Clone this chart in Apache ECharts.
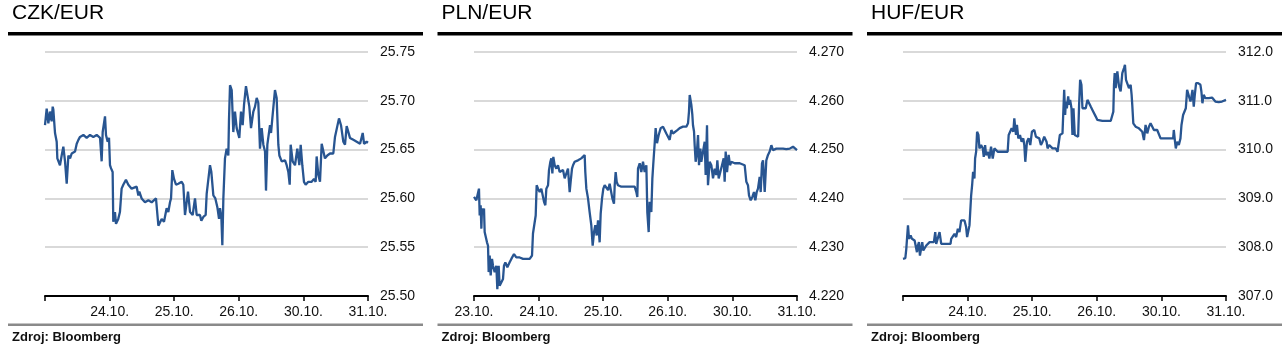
<!DOCTYPE html>
<html>
<head>
<meta charset="utf-8">
<script src="https://cdn.jsdelivr.net/npm/echarts@6/dist/echarts.min.js"></script>
<style>
html,body{margin:0;padding:0;background:#fff;}
#c{width:1285px;height:359px;}
</style>
</head>
<body>
<div id="c"></div>
<script>
// ---- DATA ----
const titles = ['CZK/EUR', 'PLN/EUR', 'HUF/EUR'];
const dayLabels = ['23.10.', '24.10.', '25.10.', '26.10.', '30.10.', '31.10.'];
const showFirstLabel = [false, true, false];
const sourceText = 'Zdroj: Bloomberg';

const czkYTicks = [25.50, 25.75, 0.05];
const plnYTicks = [4.220, 4.270, 0.01];
const hufYTicks = [307.0, 312.0, 1.0];

// [trading-day position, rate]
const czkSeries = [
[0,25.675],[0.026,25.692],[0.052,25.677],[0.077,25.689],[0.103,25.679],[0.119,25.694],[0.129,25.691],[0.155,25.667],[0.181,25.658],[0.191,25.641],[0.206,25.639],[0.232,25.634],[0.258,25.644],[0.284,25.653],[0.310,25.638],[0.336,25.615],[0.351,25.614],[0.362,25.644],[0.388,25.641],[0.413,25.646],[0.439,25.646],[0.465,25.648],[0.491,25.656],[0.517,25.660],[0.542,25.663],[0.594,25.665],[0.645,25.662],[0.697,25.665],[0.748,25.663],[0.800,25.665],[0.826,25.667],[0.852,25.662],[0.877,25.638],[0.893,25.668],[0.929,25.684],[0.944,25.665],[0.970,25.658],[0.991,25.662],[1.006,25.634],[1.021,25.631],[1.047,25.627],[1.057,25.576],[1.083,25.586],[1.099,25.574],[1.134,25.579],[1.160,25.586],[1.186,25.610],[1.212,25.614],[1.253,25.619],[1.290,25.614],[1.341,25.610],[1.419,25.612],[1.445,25.603],[1.460,25.607],[1.496,25.600],[1.548,25.596],[1.600,25.598],[1.651,25.596],[1.718,25.600],[1.755,25.572],[1.806,25.579],[1.842,25.576],[1.883,25.590],[1.909,25.586],[1.935,25.596],[1.951,25.600],[1.971,25.629],[1.997,25.620],[2.028,25.614],[2.064,25.615],[2.116,25.617],[2.141,25.614],[2.167,25.583],[2.193,25.581],[2.214,25.607],[2.245,25.586],[2.286,25.583],[2.322,25.600],[2.348,25.583],[2.399,25.583],[2.420,25.577],[2.451,25.581],[2.487,25.583],[2.503,25.605],[2.528,25.607],[2.554,25.634],[2.575,25.627],[2.606,25.603],[2.637,25.600],[2.668,25.591],[2.694,25.579],[2.709,25.590],[2.730,25.581],[2.745,25.552],[2.761,25.600],[2.786,25.641],[2.812,25.651],[2.838,25.644],[2.848,25.680],[2.864,25.716],[2.890,25.711],[2.915,25.668],[2.941,25.689],[2.967,25.672],[3.008,25.662],[3.034,25.689],[3.060,25.675],[3.081,25.696],[3.111,25.715],[3.137,25.715],[3.163,25.694],[3.189,25.672],[3.225,25.689],[3.251,25.694],[3.277,25.703],[3.302,25.698],[3.328,25.651],[3.354,25.672],[3.380,25.655],[3.406,25.648],[3.421,25.608],[3.442,25.655],[3.483,25.675],[3.499,25.667],[3.519,25.682],[3.560,25.711],[3.586,25.703],[3.612,25.655],[3.628,25.644],[3.664,25.638],[3.716,25.639],[3.741,25.634],[3.767,25.627],[3.788,25.614],[3.803,25.655],[3.834,25.638],[3.870,25.634],[3.906,25.651],[3.937,25.634],[3.958,25.655],[3.983,25.634],[4.009,25.617],[4.035,25.614],[4.076,25.617],[4.128,25.617],[4.164,25.620],[4.190,25.617],[4.205,25.643],[4.231,25.624],[4.257,25.617],[4.283,25.656],[4.309,25.656],[4.334,25.641],[4.370,25.644],[4.412,25.646],[4.463,25.646],[4.489,25.663],[4.515,25.665],[4.551,25.682],[4.582,25.675],[4.618,25.658],[4.644,25.655],[4.670,25.674],[4.696,25.674],[4.721,25.662],[4.773,25.660],[4.825,25.658],[4.877,25.656],[4.918,25.667],[4.939,25.656],[4.979,25.658],[5.0,25.657]
];

const plnSeries = [
[0,4.2403],[0.021,4.2400],[0.036,4.2396],[0.062,4.2393],[0.077,4.2420],[0.088,4.2365],[0.103,4.2386],[0.114,4.2338],[0.124,4.2379],[0.139,4.2372],[0.155,4.2379],[0.165,4.2331],[0.181,4.2334],[0.201,4.2310],[0.217,4.2303],[0.227,4.2249],[0.243,4.2283],[0.258,4.2242],[0.279,4.2276],[0.294,4.2262],[0.320,4.2249],[0.346,4.2262],[0.361,4.2214],[0.382,4.2262],[0.397,4.2221],[0.423,4.2225],[0.449,4.2235],[0.464,4.2262],[0.485,4.2269],[0.516,4.2259],[0.552,4.2269],[0.578,4.2276],[0.619,4.2286],[0.655,4.2279],[0.707,4.2279],[0.759,4.2276],[0.810,4.2276],[0.862,4.2276],[0.898,4.2283],[0.913,4.2328],[0.939,4.2331],[0.955,4.2365],[0.970,4.2427],[0.991,4.2420],[1.017,4.2413],[1.042,4.2420],[1.068,4.2420],[1.084,4.2393],[1.104,4.2386],[1.120,4.2420],[1.146,4.2427],[1.161,4.2458],[1.182,4.2475],[1.197,4.2482],[1.213,4.2451],[1.228,4.2485],[1.249,4.2468],[1.275,4.2461],[1.300,4.2468],[1.326,4.2454],[1.352,4.2451],[1.378,4.2458],[1.404,4.2441],[1.429,4.2451],[1.455,4.2461],[1.481,4.2413],[1.496,4.2434],[1.517,4.2461],[1.533,4.2468],[1.558,4.2475],[1.584,4.2475],[1.610,4.2478],[1.661,4.2482],[1.687,4.2485],[1.713,4.2489],[1.723,4.2454],[1.739,4.2420],[1.765,4.2400],[1.790,4.2372],[1.816,4.2345],[1.837,4.2303],[1.858,4.2331],[1.878,4.2345],[1.899,4.2324],[1.920,4.2355],[1.945,4.2310],[1.961,4.2369],[1.982,4.2400],[2.002,4.2420],[2.023,4.2427],[2.049,4.2430],[2.075,4.2417],[2.100,4.2430],[2.126,4.2430],[2.142,4.2400],[2.167,4.2389],[2.178,4.2427],[2.193,4.2454],[2.209,4.2434],[2.229,4.2427],[2.281,4.2424],[2.384,4.2424],[2.487,4.2424],[2.513,4.2413],[2.528,4.2403],[2.539,4.2461],[2.565,4.2472],[2.590,4.2454],[2.616,4.2475],[2.642,4.2454],[2.668,4.2468],[2.683,4.2372],[2.704,4.2331],[2.719,4.2393],[2.745,4.2372],[2.761,4.2441],[2.776,4.2472],[2.797,4.2513],[2.812,4.2544],[2.833,4.2513],[2.859,4.2530],[2.890,4.2544],[2.926,4.2547],[2.952,4.2544],[2.977,4.2533],[3.003,4.2537],[3.029,4.2520],[3.055,4.2540],[3.080,4.2533],[3.106,4.2537],[3.148,4.2540],[3.184,4.2544],[3.235,4.2547],[3.287,4.2547],[3.313,4.2554],[3.328,4.2578],[3.339,4.2612],[3.364,4.2592],[3.380,4.2571],[3.390,4.2550],[3.406,4.2537],[3.416,4.2509],[3.431,4.2475],[3.447,4.2489],[3.468,4.2530],[3.483,4.2468],[3.504,4.2502],[3.519,4.2475],[3.545,4.2475],[3.571,4.2516],[3.586,4.2448],[3.607,4.2550],[3.622,4.2427],[3.648,4.2475],[3.674,4.2468],[3.700,4.2441],[3.726,4.2461],[3.751,4.2448],[3.767,4.2478],[3.788,4.2441],[3.813,4.2454],[3.839,4.2468],[3.865,4.2482],[3.880,4.2434],[3.896,4.2496],[3.917,4.2454],[3.942,4.2489],[3.963,4.2468],[3.984,4.2475],[4.035,4.2472],[4.113,4.2472],[4.190,4.2468],[4.216,4.2434],[4.241,4.2427],[4.257,4.2406],[4.283,4.2396],[4.309,4.2403],[4.334,4.2413],[4.355,4.2396],[4.376,4.2413],[4.396,4.2420],[4.422,4.2444],[4.438,4.2413],[4.458,4.2472],[4.474,4.2478],[4.500,4.2413],[4.525,4.2478],[4.551,4.2489],[4.577,4.2496],[4.603,4.2509],[4.628,4.2499],[4.680,4.2502],[4.783,4.2502],[4.835,4.2501],[4.887,4.2502],[4.938,4.2506],[5.0,4.2499]
];

const hufSeries = [
[0,307.760],[0.036,307.774],[0.051,307.966],[0.067,307.980],[0.077,308.447],[0.093,308.172],[0.118,308.241],[0.139,308.172],[0.154,308.206],[0.180,308.138],[0.195,308.104],[0.216,307.898],[0.231,308.035],[0.247,308.104],[0.262,307.829],[0.283,307.863],[0.298,308.104],[0.314,307.932],[0.334,307.966],[0.360,308.035],[0.386,308.069],[0.412,308.104],[0.437,308.104],[0.478,308.104],[0.499,308.309],[0.514,308.069],[0.540,308.035],[0.566,308.309],[0.592,308.069],[0.643,308.069],[0.736,308.069],[0.746,308.172],[0.772,308.172],[0.797,308.275],[0.823,308.206],[0.849,308.378],[0.874,308.309],[0.900,308.549],[0.926,308.515],[0.952,308.549],[0.977,308.412],[0.993,308.206],[1.019,308.206],[1.029,308.447],[1.044,308.447],[1.055,309.064],[1.070,309.270],[1.085,309.544],[1.106,309.407],[1.116,309.818],[1.132,309.956],[1.147,310.367],[1.168,310.299],[1.183,310.024],[1.209,310.093],[1.235,310.024],[1.250,309.853],[1.271,310.093],[1.286,309.887],[1.312,309.956],[1.337,309.818],[1.363,310.059],[1.389,309.818],[1.415,310.024],[1.466,309.956],[1.620,309.956],[1.636,310.299],[1.662,310.333],[1.682,310.436],[1.708,310.367],[1.723,310.642],[1.749,310.299],[1.764,310.505],[1.785,310.230],[1.811,310.299],[1.836,310.162],[1.862,310.230],[1.878,310.093],[1.893,309.750],[1.919,310.162],[1.944,310.230],[1.970,310.093],[1.996,310.367],[2.032,310.402],[2.058,310.264],[2.083,310.299],[2.109,310.230],[2.135,310.093],[2.160,310.162],[2.186,310.264],[2.222,310.162],[2.238,310.024],[2.263,310.093],[2.315,310.024],[2.366,310.024],[2.392,309.956],[2.418,309.921],[2.428,310.299],[2.443,310.333],[2.469,310.333],[2.495,311.225],[2.510,310.710],[2.521,310.985],[2.536,310.847],[2.557,311.088],[2.572,310.916],[2.587,311.019],[2.608,310.847],[2.623,310.299],[2.639,310.847],[2.659,310.299],[2.685,310.333],[2.711,310.264],[2.726,310.916],[2.742,311.431],[2.762,311.328],[2.778,310.847],[2.803,310.813],[2.829,310.847],[2.855,311.019],[2.881,310.985],[2.906,310.882],[2.932,310.813],[2.958,310.779],[2.984,310.676],[3.009,310.607],[3.035,310.573],[3.086,310.587],[3.215,310.587],[3.256,310.779],[3.266,311.328],[3.277,311.568],[3.292,311.259],[3.318,311.602],[3.344,311.293],[3.369,311.191],[3.395,311.568],[3.421,311.671],[3.436,311.739],[3.452,311.431],[3.472,311.396],[3.498,311.259],[3.524,311.328],[3.539,311.122],[3.549,310.916],[3.565,310.539],[3.601,310.470],[3.652,310.436],[3.704,310.367],[3.730,310.196],[3.755,310.505],[3.781,310.333],[3.807,310.470],[3.832,310.539],[3.858,310.505],[3.884,310.402],[3.909,310.436],[3.935,310.402],[3.961,310.367],[3.987,310.230],[4.182,310.230],[4.192,310.402],[4.208,310.196],[4.223,310.024],[4.244,310.162],[4.270,310.093],[4.295,310.230],[4.311,310.505],[4.336,310.710],[4.357,310.710],[4.378,310.847],[4.398,311.225],[4.424,311.259],[4.450,310.985],[4.465,311.088],[4.481,311.225],[4.501,310.882],[4.517,311.122],[4.537,311.362],[4.568,311.362],[4.604,311.328],[4.619,311.191],[4.635,310.950],[4.655,311.122],[4.681,311.053],[4.733,311.053],[4.784,311.067],[4.835,310.985],[4.887,310.971],[4.938,310.985],[5.0,311.019]
];

const seriesData = [czkSeries, plnSeries, hufSeries];
const yTicks = [czkYTicks, plnYTicks, hufYTicks];
const yDecimals = [2, 3, 1];

// ---- LAYOUT ----
const FONT = '"Liberation Sans", Arial, sans-serif';
const panelX = [8, 437.5, 867];
const panelW = 415;
const plotLeft = [45, 474, 903];
const plotW = 323;
const plotTop = 52, plotBottomY = 296;

const chart = echarts.init(document.getElementById('c'), null, {renderer: 'canvas', width: 1285, height: 359});

const grids = [], xAxes = [], yAxes = [], series = [], graphics = [];
for (let i = 0; i < 3; i++) {
  grids.push({left: plotLeft[i], top: plotTop, width: plotW, height: plotBottomY - plotTop, containLabel: false});
  xAxes.push({
    type: 'value', gridIndex: i, min: 0, max: 5, interval: 1,
    axisLine: {show: true, lineStyle: {color: '#000', width: 2}},
    axisTick: {show: true, length: 5, lineStyle: {color: '#000', width: 1.5}},
    splitLine: {show: false},
    axisLabel: {
      show: true, margin: 9, color: '#111', fontFamily: FONT, fontSize: 14,
      formatter: (v) => (v === 0 && !showFirstLabel[i]) ? '' : dayLabels[Math.round(v)]
    }
  });
  const t = yTicks[i];
  yAxes.push({
    type: 'value', gridIndex: i, position: 'right', min: t[0], max: t[1], interval: t[2],
    axisLine: {show: false}, axisTick: {show: false},
    splitLine: {show: true, lineStyle: {color: '#d9d9d9', width: 2}},
    axisLabel: {margin: 12, color: '#111', fontFamily: FONT, fontSize: 14,
      formatter: (v) => v.toFixed(yDecimals[i])}
  });
  series.push({
    type: 'line', xAxisIndex: i, yAxisIndex: i, data: seriesData[i],
    showSymbol: false, symbol: 'none', smooth: false, animation: false,
    lineStyle: {color: '#285591', width: 2.3}, z: 3
  });
  graphics.push({type: 'text', x: panelX[i] + 4, y: 3,
    style: {text: titles[i], font: '21px ' + FONT, fill: '#000', textVerticalAlign: 'top'}});
  graphics.push({type: 'rect', shape: {x: panelX[i], y: 32, width: panelW, height: 3.5},
    style: {fill: '#000'}});
  graphics.push({type: 'rect', shape: {x: panelX[i], y: 323.5, width: panelW, height: 2.5},
    style: {fill: '#8a8a8a'}});
  graphics.push({type: 'text', x: panelX[i] + 4, y: 331,
    style: {text: sourceText, font: 'bold 13px ' + FONT, fill: '#111', textVerticalAlign: 'top'}});
}

chart.setOption({
  animation: false,
  grid: grids, xAxis: xAxes, yAxis: yAxes, series: series, graphic: graphics
});
</script>
</body>
</html>
